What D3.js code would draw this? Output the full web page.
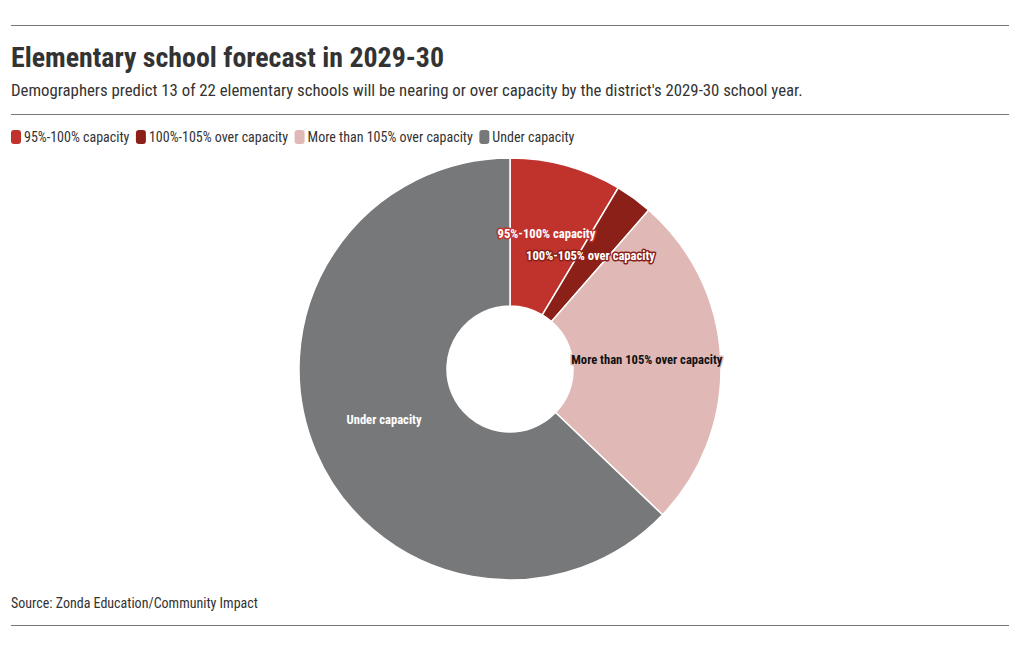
<!DOCTYPE html>
<html><head><meta charset="utf-8">
<script src="https://cdn.jsdelivr.net/npm/d3@7"></script>
<style>
body{margin:0;background:#fff;}
text{font-family:"Roboto Condensed","Liberation Sans Narrow","DejaVu Sans Condensed",Roboto,sans-serif;}
</style></head><body>
<svg id="c" width="1020" height="650"></svg>
<script>
const categories = ["95%-100% capacity","100%-105% over capacity","More than 105% over capacity","Under capacity"];
const values = [3, 1, 9, 22];
const colors = ["#c0322c","#8b2018","#e0b8b6","#77787a"];
const labelFill = ["#fff","#fff","#111","#fff"];
const labelHalo = ["#c0322c","#8b2018","#e0b8b6","none"];

const svg = d3.select("#c");
svg.append("line").attr("x1",11).attr("x2",1009).attr("y1",25.5).attr("y2",25.5).attr("stroke","#777").attr("stroke-width",1);
svg.append("text").attr("x",11).attr("y",67).attr("font-size",27.9).attr("font-weight",700).attr("fill","#333").text("Elementary school forecast in 2029-30");
svg.append("text").attr("x",11).attr("y",96).attr("font-size",16.8).attr("fill","#333").text("Demographers predict 13 of 22 elementary schools will be nearing or over capacity by the district's 2029-30 school year.");
svg.append("line").attr("x1",11).attr("x2",1009).attr("y1",114.5).attr("y2",114.5).attr("stroke","#777").attr("stroke-width",1);

// legend
const lg = svg.append("g");
let lx = 11;
categories.forEach((c,i)=>{
  const g = lg.append("g").attr("transform",`translate(${lx},0)`);
  g.append("rect").attr("x",0).attr("y",130).attr("width",10).attr("height",14).attr("rx",3).attr("fill",colors[i]);
  const t = g.append("text").attr("x",13).attr("y",142).attr("font-size",14).attr("fill","#333").text(c);
  lx += 13 + t.node().getComputedTextLength() + 6.5;
});

const cx = 510, cy = 369, R = 211, r = 63;
const pie = d3.pie().sort(null).value(d=>d)(values);
const arc = d3.arc().innerRadius(r).outerRadius(R);
const g = svg.append("g").attr("transform",`translate(${cx},${cy})`);
g.selectAll("path").data(pie).join("path").attr("d",arc).attr("fill",(d,i)=>colors[i]).attr("stroke","#fff").attr("stroke-width",1.5);
g.selectAll("text.l").data(pie).join("text").attr("class","l")
  .attr("transform",d=>{const c=arc.centroid(d);return `translate(${c[0]},${c[1]+1.5})`;})
  .attr("text-anchor","middle").attr("font-size",12.6).attr("font-weight",700)
  .attr("fill",(d,i)=>labelFill[i])
  .attr("stroke",(d,i)=>labelHalo[i]).attr("stroke-width",3).attr("stroke-linejoin","round")
  .attr("paint-order","stroke")
  .text((d,i)=>categories[i]);

svg.append("text").attr("x",11).attr("y",608).attr("font-size",14).attr("fill","#333").text("Source: Zonda Education/Community Impact");
svg.append("line").attr("x1",11).attr("x2",1009).attr("y1",625.5).attr("y2",625.5).attr("stroke","#777").attr("stroke-width",1);
</script></body></html>
